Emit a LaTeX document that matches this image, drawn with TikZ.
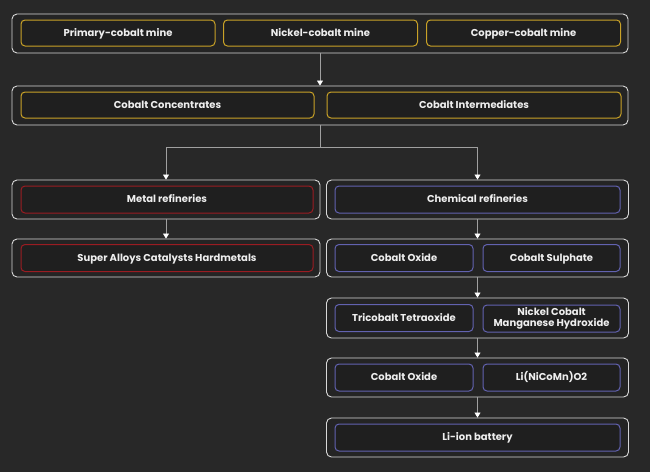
\documentclass[tikz,border=0pt]{standalone}
\usepackage{fontspec}
\setmainfont{Poppins}
\usetikzlibrary{arrows.meta}
\definecolor{bg}{HTML}{282828}
\definecolor{grpfill}{HTML}{242424}
\definecolor{boxfill}{HTML}{1F1F1F}
\definecolor{grpline}{HTML}{D8D8D8}
\definecolor{gold}{HTML}{C9A227}
\definecolor{darkred}{HTML}{9A1C22}
\definecolor{violet}{HTML}{6262B0}
\definecolor{connline}{HTML}{A0A0A0}
\definecolor{txt}{HTML}{EEEEEE}
\tikzset{
  grp/.style={draw=grpline, fill=grpfill, line width=0.9pt, rounded corners=5pt, inner sep=0pt},
  basebox/.style={fill=boxfill, line width=1pt, rounded corners=4pt, minimum height=26pt, inner sep=0pt,
    font=\fontsize{10}{11.5}\selectfont\bfseries, text=txt, align=center},
  oneline/.style={text height=7.3pt, text depth=0.7pt},
  ybox/.style={basebox, oneline, draw=gold},
  rbox/.style={basebox, oneline, draw=darkred},
  bbox/.style={basebox, oneline, draw=violet},
  bbox2/.style={basebox, draw=violet},
  conn/.style={draw=connline, line width=0.6pt, -{Triangle[width=6pt,length=5pt,color=white]}}
}
\begin{document}
\begin{tikzpicture}[x=1pt,y=-1pt]
\fill[bg] (0,0) rectangle (650,472);
\useasboundingbox (0,0) rectangle (650,472);
% groups
\node[grp, minimum width=616pt, minimum height=39pt] (g1) at (320,33.5) {};
\node[grp, minimum width=616pt, minimum height=39pt] (g2) at (320,105.5) {};
\node[grp, minimum width=308pt, minimum height=39pt] (gmetal) at (166,199.5) {};
\node[grp, minimum width=308pt, minimum height=38pt] (galloy) at (166,258) {};
\node[grp, minimum width=302pt, minimum height=39pt] (gchem) at (477.5,199.5) {};
\node[grp, minimum width=302pt, minimum height=38pt] (gox) at (477.5,258) {};
\node[grp, minimum width=302pt, minimum height=40pt] (gtri) at (477.5,318) {};
\node[grp, minimum width=302pt, minimum height=39pt] (gli) at (477.5,377.5) {};
\node[grp, minimum width=302pt, minimum height=39pt] (gbat) at (477.5,437.5) {};
% row 1
\node[ybox, minimum width=194pt] (m1) at (118,33) {Primary-cobalt mine};
\node[ybox, minimum width=194pt] (m2) at (320.5,33) {Nickel-cobalt mine};
\node[ybox, minimum width=194pt] (m3) at (523.5,33) {Copper-cobalt mine};
% row 2
\node[ybox, minimum width=293pt] (c1) at (167.5,105) {Cobalt Concentrates};
\node[ybox, minimum width=294pt] (c2) at (474,105) {Cobalt Intermediates};
% left
\node[rbox, minimum width=292pt, minimum height=27pt] (metal) at (167,199.5) {Metal refineries};
\node[rbox, minimum width=292pt, minimum height=27pt] (alloy) at (167,258) {Super Alloys Catalysts Hardmetals};
% right
\node[bbox, minimum width=285pt, minimum height=27pt] (chem) at (477.5,199.5) {Chemical refineries};
\node[bbox, minimum width=138pt, minimum height=27pt] (ox1) at (404,258) {Cobalt Oxide};
\node[bbox, minimum width=137pt, minimum height=27pt] (sul) at (551.5,258) {Cobalt Sulphate};
\node[bbox, minimum width=138pt, minimum height=27pt] (tri) at (404,318) {Tricobalt Tetraoxide};
\node[bbox2, minimum width=137pt, minimum height=27pt] (nmc) at (551.5,318.5) {Nickel Cobalt\\Manganese Hydroxide};
\node[bbox, minimum width=138pt, minimum height=27pt] (ox2) at (404,377.5) {Cobalt Oxide};
\node[bbox, minimum width=137pt, minimum height=27pt] (lnmc) at (551.5,377.5) {Li(NiCoMn)O2};
\node[bbox, minimum width=285pt, minimum height=27pt] (bat) at (477.5,437.5) {Li-ion battery};
% connectors
\draw[conn] (g1.south) -- (g2.north);
\draw[conn] (g2.south) -- ++(0,22) -| (gmetal.north);
\draw[conn] (g2.south) -- ++(0,22) -| (gchem.north);
\draw[conn] (gmetal.south) -- (galloy.north);
\draw[conn] (gchem.south) -- (gox.north);
\draw[conn] (gox.south) -- (gtri.north);
\draw[conn] (gtri.south) -- (gli.north);
\draw[conn] (gli.south) -- (gbat.north);
\end{tikzpicture}
\end{document}
